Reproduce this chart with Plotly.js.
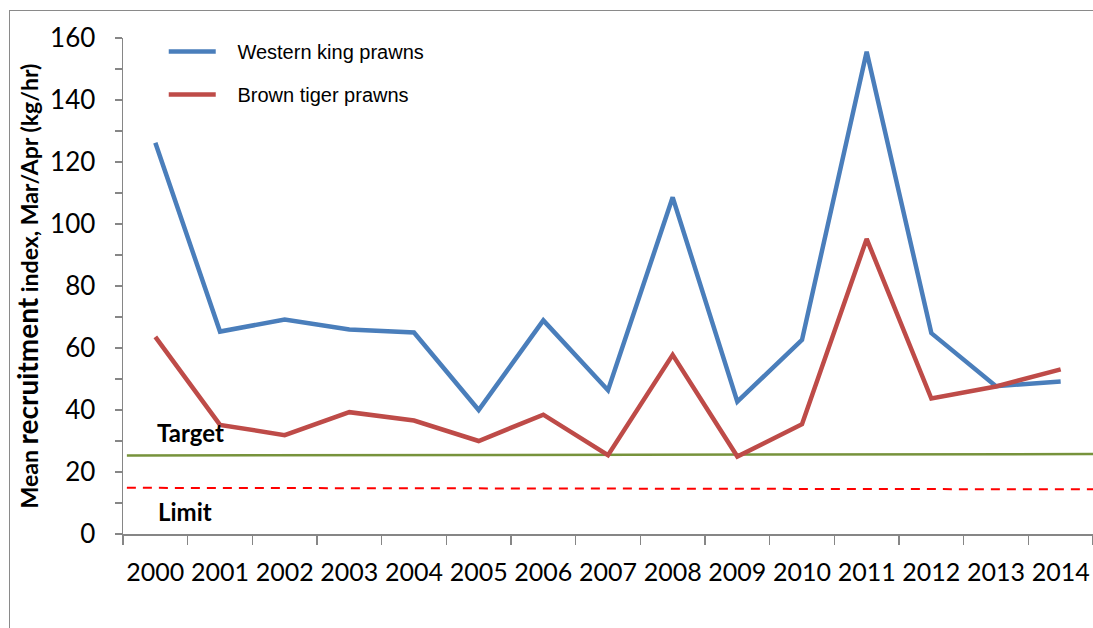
<!DOCTYPE html>
<html>
<head>
<meta charset="utf-8">
<script src="https://cdn.plot.ly/plotly-3.0.1.min.js"></script>
<style>
  html, body { margin: 0; padding: 0; background: #ffffff; }
  #frame { position: absolute; left: 9px; top: 10px; width: 1200px; height: 700px;
           border: 1.5px solid #8a8a8a; box-sizing: border-box; }
  #chart { position: absolute; left: 0; top: 0; width: 1093px; height: 628px; }
</style>
</head>
<body>
<div id="frame"></div>
<div id="chart"></div>
<script>
// Survey years
const years = ['2000','2001','2002','2003','2004','2005','2006','2007',
               '2008','2009','2010','2011','2012','2013','2014'];

// Mean recruitment index, Mar/Apr (kg/hr)
const westernKing = [126.2, 65.3, 69.2, 66.0, 65.0, 40.0, 68.9, 46.4,
                     108.6, 42.7, 62.6, 155.6, 64.8, 47.7, 49.2];
const brownTiger  = [63.6, 35.2, 31.9, 39.3, 36.6, 30.0, 38.5, 25.4,
                     57.8, 25.0, 35.4, 95.2, 43.7, 47.6, 53.1];

// Reference points (value at left and right edge of the plot)
const targetLevel = [25.3, 25.8];
const limitLevel  = [14.9, 14.4];

// Non-breaking gap between legend swatch and its label
const gap = '\u00a0\u00a0\u00a0';

const traces = [
  { x: years, y: westernKing, type: 'scatter', mode: 'lines',
    name: gap + 'Western king prawns', legendgroup: 'wk',
    line: { color: '#4a7ebb', width: 4.5 } },
  { x: years, y: brownTiger, type: 'scatter', mode: 'lines',
    name: gap + 'Brown tiger prawns', legendgroup: 'bt',
    line: { color: '#be4b48', width: 4.5 } }
];

const shapes = [
  { type: 'line', xref: 'paper', yref: 'y', x0: 0.004, x1: 1,
    y0: targetLevel[0], y1: targetLevel[1],
    line: { color: '#77933c', width: 2.5 }, layer: 'below' },
  { type: 'line', xref: 'paper', yref: 'y', x0: 0.004, x1: 1,
    y0: limitLevel[0], y1: limitLevel[1],
    line: { color: '#ff0000', width: 2, dash: '9px,7px' }, layer: 'below' }
];

const annotations = [
  { text: '<b>Target</b>', xref: 'paper', yref: 'y', x: 0.07, y: 32.6,
    xanchor: 'center', yanchor: 'middle', showarrow: false,
    font: { family: 'Lato, sans-serif', size: 24, color: '#000' } },
  { text: '<b>Limit</b>', xref: 'paper', yref: 'y', x: 0.064, y: 7.4,
    xanchor: 'center', yanchor: 'middle', showarrow: false,
    font: { family: 'Lato, sans-serif', size: 24, color: '#000' } }
];

const layout = {
  width: 1093, height: 628,
  margin: { l: 123, r: 0, t: 38, b: 94, pad: 0 },
  paper_bgcolor: 'rgba(0,0,0,0)',
  plot_bgcolor: 'rgba(0,0,0,0)',
  font: { family: 'Lato, sans-serif', color: '#000' },
  showlegend: true,
  legend: {
    x: 0.042, y: 1.012, xanchor: 'left', yanchor: 'top',
    bgcolor: 'rgba(0,0,0,0)', tracegroupgap: 14, itemwidth: 47,
    font: { family: 'Liberation Sans, Arial, sans-serif', size: 20, color: '#000' }
  },
  xaxis: {
    type: 'category', range: [-0.5, 14.5], tickson: 'boundaries',
    tickangle: 0, ticklabelstandoff: 15,
    ticks: 'outside', ticklen: 9, tickwidth: 1.5, tickcolor: '#868686',
    showline: true, linecolor: '#868686', linewidth: 1.5,
    showgrid: false, zeroline: false, fixedrange: true,
    tickfont: { family: 'Lato, sans-serif', size: 25, color: '#000' }
  },
  yaxis: {
    range: [0, 160], dtick: 20, tick0: 0, ticklabelstandoff: 14,
    ticks: 'outside', ticklen: 7, tickwidth: 1.5, tickcolor: '#868686',
    minor: { dtick: 10, ticks: 'outside', ticklen: 7, tickwidth: 1.5, tickcolor: '#868686', showgrid: false },
    showline: true, linecolor: '#868686', linewidth: 1.5,
    showgrid: false, zeroline: false, fixedrange: true,
    tickfont: { family: 'Lato, sans-serif', size: 26, color: '#000' },
    title: {
      text: '<b>Mean <span style="font-size:28px">recruitment</span> index, Mar/Apr (kg/hr)</b>',
      font: { family: 'Lato, sans-serif', size: 23, color: '#000' },
      standoff: 5
    }
  },
  shapes: shapes,
  annotations: annotations
};

Plotly.newPlot('chart', traces, layout, { displayModeBar: false, staticPlot: true });
</script>
</body>
</html>
